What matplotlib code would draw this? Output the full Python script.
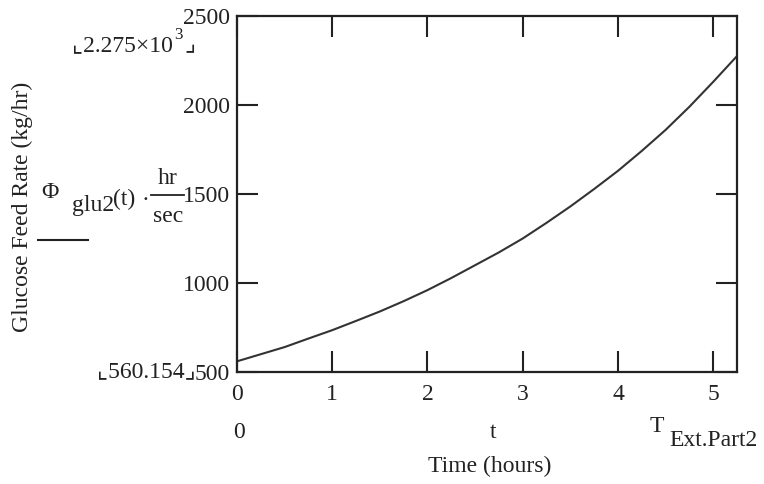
import matplotlib
matplotlib.use("Agg")
import matplotlib.pyplot as plt

# Data
t_hours = [0, 0.25, 0.5, 0.75, 1, 1.25, 1.5, 1.75, 2, 2.25, 2.5, 2.75, 3,
           3.25, 3.5, 3.75, 4, 4.25, 4.5, 4.75, 5, 5.25]
feed_rate = [560, 600, 640, 688, 735, 787, 840, 898, 960, 1028, 1100, 1172, 1250,
             1338, 1430, 1528, 1630, 1742, 1860, 1990, 2130, 2275]
x_ticks = [0, 1, 2, 3, 4, 5]
y_ticks = [500, 1000, 1500, 2000, 2500]
x_max = 5.25

W, H = 764, 484
fig = plt.figure(figsize=(W / 100, H / 100), dpi=100)
plt.rcParams['font.family'] = ['Liberation Serif', 'DejaVu Sans', 'Noto Sans CJK JP']
FS = 17
ink = '#222222'
corner_fam = ['Liberation Serif', 'DejaVu Sans', 'Noto Sans CJK JP']

def px(x, y):
    return x / W, 1 - y / H

ax = fig.add_axes([237 / W, 1 - 372 / H, (737 - 237) / W, (372 - 16) / H])
ax.plot(t_hours, feed_rate, color='#333333', lw=1.5)
ax.set_xlim(0, x_max)
ax.set_ylim(500, 2500)
ax.set_xticks(x_ticks)
ax.set_yticks(y_ticks)
ax.tick_params(direction='in', length=15, width=1.5, colors=ink, labelsize=FS,
               top=True, right=True, pad=5)
ax.tick_params(axis='x', pad=9)
for s in ax.spines.values():
    s.set_linewidth(1.6)
    s.set_color(ink)

# Mathcad-style annotations
fig.text(*px(22, 207), 'Glucose Feed Rate (kg/hr)', rotation=90, ha='center', va='center',
         fontsize=FS, color=ink)
fig.text(*px(173, 46), '⌞2.275×10', ha='right', va='center', fontsize=FS,
         color=ink, family=corner_fam)
fig.text(*px(174, 35), '3', ha='left', va='center', fontsize=FS * 0.72, color=ink)
fig.text(*px(184, 46), '⌟', ha='left', va='center', fontsize=FS,
         color=ink, family=corner_fam)
fig.text(*px(146, 372), '⌞560.154⌟', ha='center', va='center', fontsize=FS,
         color=ink, family=corner_fam)
fig.text(*px(50, 193), 'Φ', ha='center', va='center', fontsize=FS, color=ink)
fig.text(*px(72, 206), 'glu2', ha='left', va='center', fontsize=FS, color=ink)
fig.text(*px(113, 199), '(t)', ha='left', va='center', fontsize=FS, color=ink)
fig.text(*px(145, 200), '·', ha='center', va='center', fontsize=FS, color=ink)
fig.text(*px(168, 178), 'hr', ha='center', va='center', fontsize=FS, color=ink)
fig.text(*px(168, 216), 'sec', ha='center', va='center', fontsize=FS, color=ink)
fig.add_artist(plt.Line2D([151 / W, 184 / W], [1 - 195 / H, 1 - 195 / H], color=ink, lw=1.3))
fig.add_artist(plt.Line2D([38 / W, 88 / W], [1 - 240 / H, 1 - 240 / H], color=ink, lw=1.5))

fig.text(*px(239, 432), '0', ha='center', va='center', fontsize=FS, color=ink)
fig.text(*px(493, 432), 't', ha='center', va='center', fontsize=FS, color=ink)
fig.text(*px(657, 427), 'T', ha='center', va='center', fontsize=FS, color=ink)
fig.text(*px(669, 440), 'Ext.Part2', ha='left', va='center', fontsize=FS, color=ink)
fig.text(*px(490, 466), 'Time (hours)', ha='center', va='center', fontsize=FS, color=ink)

fig.savefig('out.png', dpi=100, facecolor='white')
